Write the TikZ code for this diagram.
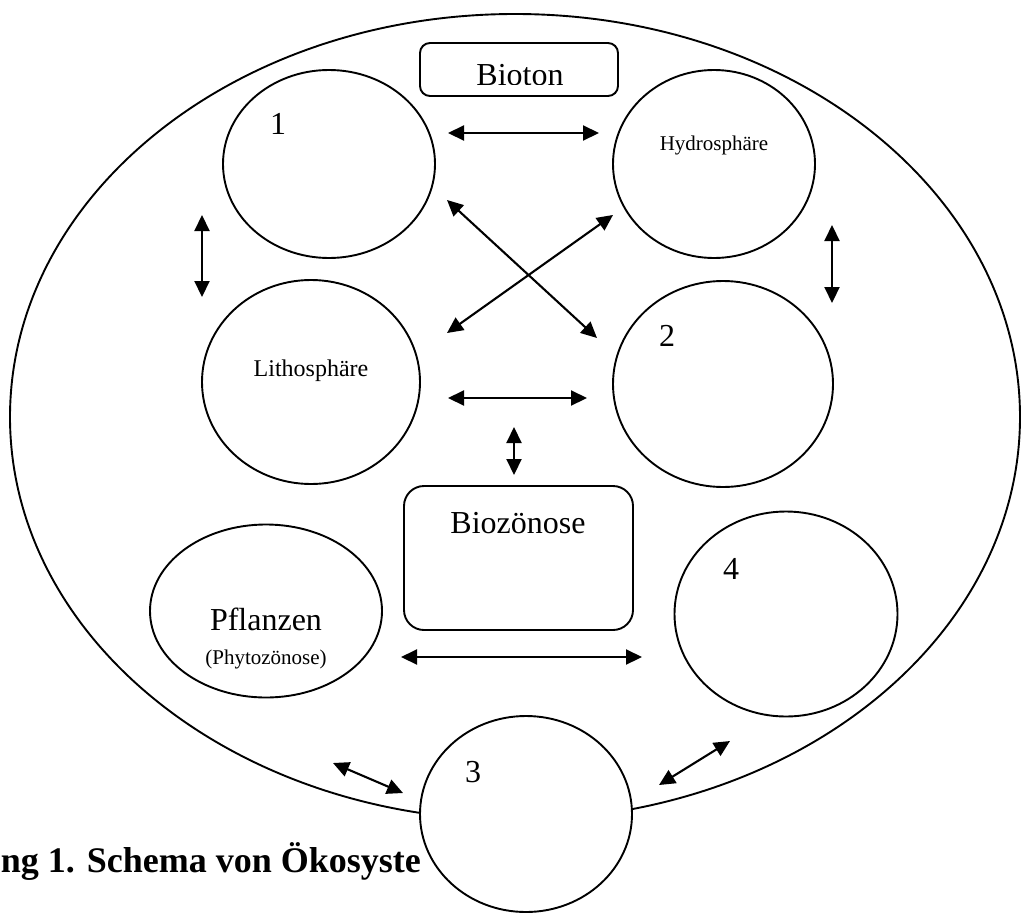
\documentclass[tikz,border=0pt]{standalone}
\usepackage{fontspec}
\setmainfont{Liberation Serif}
\usetikzlibrary{shapes.geometric,arrows.meta}
\begin{document}
\begin{tikzpicture}[x=1pt,y=-1pt,
  line width=1.9pt,
  sphere/.style={draw, ellipse, inner sep=0pt, fill=white},
  rbox/.style={draw, rectangle, rounded corners=#1, inner sep=0pt},
  big/.style={font=\fontsize{32}{38}\selectfont, inner sep=0pt},
  mid/.style={font=\fontsize{21}{25}\selectfont, inner sep=0pt},
  link/.style={{Triangle[length=16pt,width=15pt]}-{Triangle[length=16pt,width=15pt]}, line width=2.1pt},
]
\useasboundingbox (0,0) rectangle (1022,913);

% outer ecosystem ellipse
\node[draw, ellipse, minimum width=1010pt, minimum height=806pt, inner sep=0pt] (eco) at (515,417) {};

% caption (partly covered by circle 3)
\node[font=\bfseries\fontsize{36}{42}\selectfont, anchor=base west, inner sep=0pt] (cap) at (0,872) {ng 1. Schema von Ökosyste};

% boxes
\node[rbox=10pt, minimum width=198pt, minimum height=53pt] (bioton) at (519,69.5) {};
\begin{scope}
  \clip (420,40) rectangle (618,84.5);
  \node[big, anchor=base] (tbioton) at (520,85) {Bioton};
\end{scope}
\node[rbox=20pt, minimum width=229pt, minimum height=144pt] (bioz) at (518.5,558) {};
\node[big, anchor=base] (tbioz) at (518,533) {Biozönose};

% spheres
\node[sphere, minimum width=212pt, minimum height=188pt] (c1) at (329,164) {};
\node[sphere, minimum width=202pt, minimum height=188pt] (hydro) at (714,164) {};
\node[sphere, minimum width=218pt, minimum height=204pt] (litho) at (311,382) {};
\node[sphere, minimum width=220pt, minimum height=206pt] (c2) at (723,384) {};
\node[sphere, minimum width=232pt, minimum height=173pt] (pfl) at (266,611) {};
\node[sphere, minimum width=223pt, minimum height=205pt] (c4) at (786,614) {};
\node[sphere, minimum width=212pt, minimum height=196pt] (c3) at (526,814) {};

% labels
\node[big] (t1) at (278,124) {1};
\node[mid, anchor=base] (thydro) at (714,150) {Hydrosphäre};
\node[font=\fontsize{24}{28}\selectfont, inner sep=0pt, anchor=base] (tlitho) at (311,376) {Lithosphäre};
\node[big] (t2) at (667,336) {2};
\node[big] (t4) at (731,569) {4};
\node[big, anchor=base] (tpfl) at (266,630) {Pflanzen};
\node[mid, anchor=base] (tphy) at (266,664) {(Phytozönose)};
\node[big] (t3) at (473,772) {3};

% arrow end points
\coordinate (a1s) at (448,133);  \coordinate (a1e) at (599,133);
\coordinate (a2s) at (202,215);  \coordinate (a2e) at (202,297);
\coordinate (a3s) at (832,225);  \coordinate (a3e) at (832,303);
\coordinate (a4s) at (447,200);  \coordinate (a4e) at (597,338);
\coordinate (a5s) at (613,215);  \coordinate (a5e) at (447,333);
\coordinate (a6s) at (448,398);  \coordinate (a6e) at (587,398);
\coordinate (a7s) at (514,427);  \coordinate (a7e) at (514,475);
\coordinate (a8s) at (401,657);  \coordinate (a8e) at (642,657);
\coordinate (a9s) at (333,763);  \coordinate (a9e) at (403,793);
\coordinate (a10s) at (730,741); \coordinate (a10e) at (659,785);

\draw[link] (a1s) -- (a1e);
\draw[link] (a2s) -- (a2e);
\draw[link] (a3s) -- (a3e);
\draw[link] (a4s) -- (a4e);
\draw[link] (a5s) -- (a5e);
\draw[link] (a6s) -- (a6e);
\draw[link] (a7s) -- (a7e);
\draw[link] (a8s) -- (a8e);
\draw[link] (a9s) -- (a9e);
\draw[link] (a10s) -- (a10e);
\end{tikzpicture}
\end{document}
